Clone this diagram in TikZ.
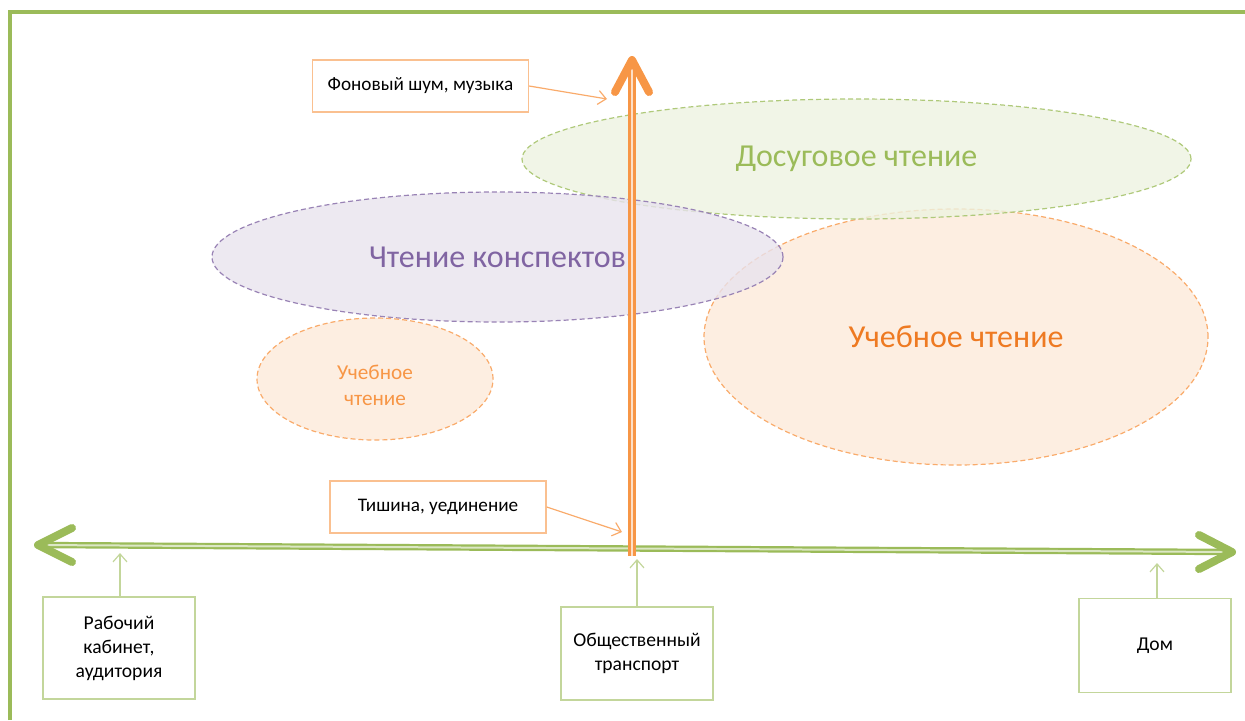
\documentclass[tikz,border=0pt]{standalone}
\usepackage{fontspec}
\setmainfont{Carlito}
\usetikzlibrary{shapes.geometric,arrows.meta}

\definecolor{grn}{HTML}{9BBB59}
\definecolor{grnlight}{HTML}{C3D69B}
\definecolor{org}{HTML}{F79646}
\definecolor{orglight}{HTML}{FAC090}
\definecolor{orgtext}{HTML}{EE7A22}
\definecolor{pur}{HTML}{8064A2}

\begin{document}
\begin{tikzpicture}[x=0.5pt, y=-0.5pt,
  place/.style={draw=grnlight, line width=0.7pt, fill=white, align=center,
    minimum width=76pt, inner sep=0pt, font=\fontsize{9.8}{12}\selectfont},
  sound/.style={draw=orglight, line width=0.7pt, fill=white,
    minimum width=108pt, minimum height=26pt, inner sep=0pt, font=\fontsize{9.6}{12}\selectfont},
  zone/.style={ellipse, dashed, dash pattern=on 2.5pt off 1.5pt, line width=0.6pt,
    inner sep=0pt, align=center, fill opacity=0.8, text opacity=1},
  thin arrow/.style={line width=0.6pt, -{Straight Barb[length=4pt,width=7pt]}},
  chevron/.style={line width=4pt, line cap=round, line join=round}]

\useasboundingbox (0,0) rectangle (1245,720);

% frame
\draw [grn, line width=2pt] (10,720) -- (10,12) -- (1245,12);

% reading zones
\node (study) [zone, draw=org!80, fill=org!20, minimum width=252pt, minimum height=128pt,
  text=orgtext, font=\fontsize{16}{19}\selectfont] at (956,337) {Учебное чтение};
\node (leisure) [zone, draw=grn!80, fill=grn!18, minimum width=334.5pt, minimum height=60pt,
  text=grn, font=\fontsize{16}{19}\selectfont] at (856.5,159) {Досуговое чтение};
\node (notes) [zone, draw=pur!80, fill=pur!18, minimum width=285.5pt, minimum height=65pt,
  text=pur, font=\fontsize{16}{19}\selectfont] at (497.5,257) {Чтение конспектов};
\node (studysmall) [zone, draw=org!80, fill=org!20, minimum width=118pt, minimum height=61pt]
  at (375,379) {};
\node (studysmall text) [align=center, text=org, font=\fontsize{10.6}{13}\selectfont]
  at (375,385) {Учебное\\чтение};

% place axis
\coordinate (left) at (38,545);
\coordinate (right) at (1232,552);
\draw [grn, line width=1.1pt, double=grn!35, double distance=1pt] (left) -- (right);
\draw [grn, chevron] (72,528) -- (left) -- (72,562);
\draw [grn, chevron] (1199,535) -- (right) -- (1199,569);

% noise axis
\coordinate (bottom) at (632,556);
\coordinate (top) at (632,60);
\draw [org, line width=1.2pt, double=org!30, double distance=1.2pt] (bottom) -- (top);
\draw [org, chevron] (615,92) -- (top) -- (649,92);

% places
\node (office) [place, minimum height=51pt] at (119,648) {Рабочий\\кабинет,\\аудитория};
\node (transport) [place, minimum height=46.5pt] at (637,653.5) {Общественный\\транспорт};
\node (home) [place, minimum height=47pt] at (1155,645.5) {Дом};

\coordinate (office tip) at (120,553);
\coordinate (transport tip) at (637,559);
\coordinate (home tip) at (1157,563);

\draw [grnlight, thin arrow] (office.north -| office tip) -- (office tip);
\draw [grnlight, thin arrow] (transport.north) -- (transport tip);
\draw [grnlight, thin arrow] (home.north -| home tip) -- (home tip);

% sound levels
\node (noise) [sound] at (420.5,86) {Фоновый шум, музыка};
\node (silence) [sound] at (438,507) {Тишина, уединение};

\coordinate (noise tip) at (607,99);
\coordinate (silence tip) at (622,532);

\draw [org!80, thin arrow] (noise.east) -- (noise tip);
\draw [org!80, thin arrow] (silence.east) -- (silence tip);

\end{tikzpicture}
\end{document}
